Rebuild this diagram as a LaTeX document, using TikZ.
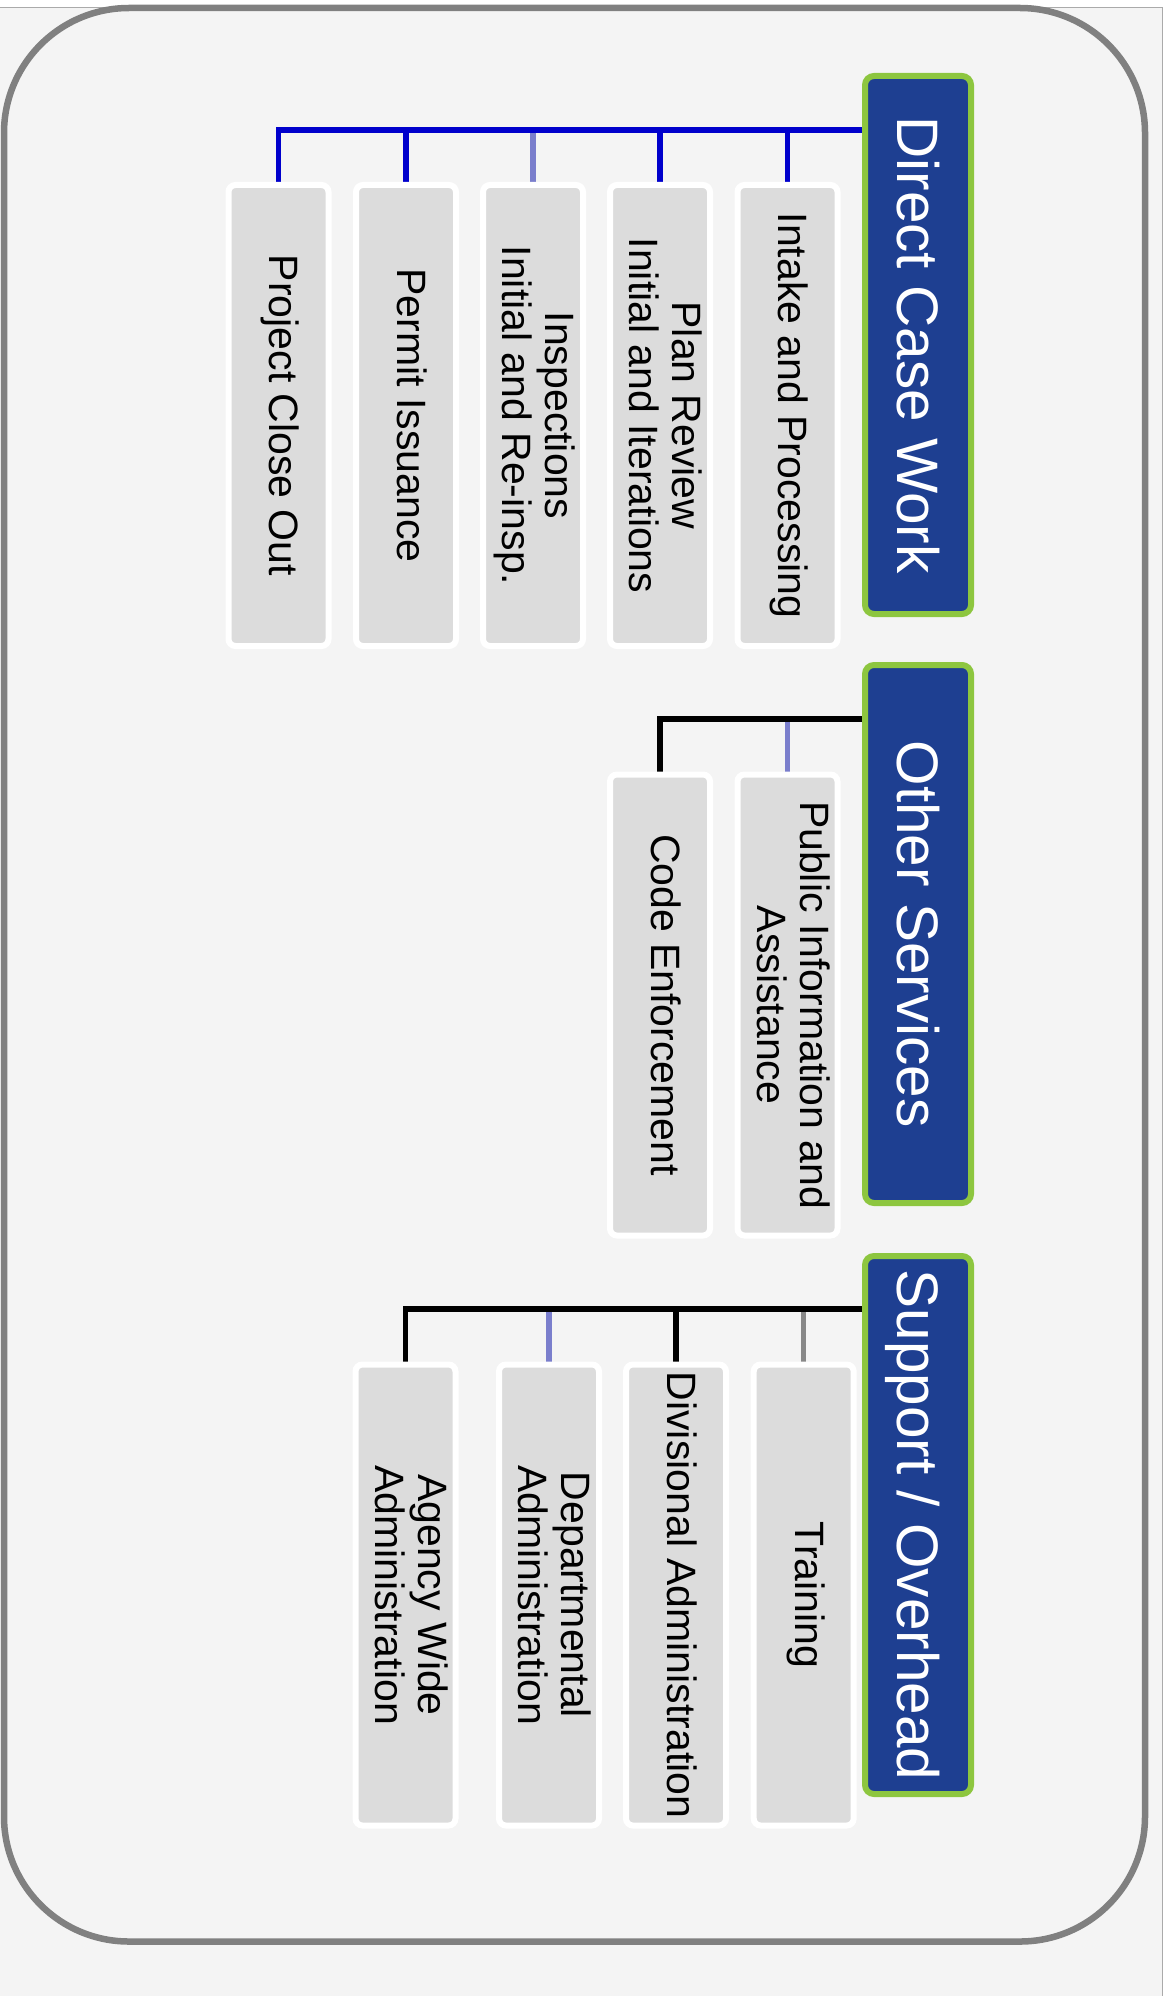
\documentclass[tikz,border=0pt]{standalone}
\usepackage{fontspec}
\setmainfont{Liberation Sans}
\usepackage{graphicx}
\definecolor{hdrblue}{RGB}{30,63,145}
\definecolor{hdrgreen}{RGB}{141,198,63}
\definecolor{cblue}{RGB}{0,0,204}
\definecolor{cpurple}{RGB}{122,126,204}
\definecolor{cgray}{RGB}{136,136,136}
\definecolor{boxgray}{RGB}{220,220,220}
\definecolor{bggray}{RGB}{244,244,244}
\definecolor{framegray}{RGB}{128,128,128}
\definecolor{edgegray}{RGB}{170,170,170}
\pgfdeclarelayer{bglayer}
\pgfdeclarelayer{connlayer}
\pgfsetlayers{bglayer,connlayer,main}
\newcommand{\vtext}[1]{\rotatebox{-90}{\begin{tabular}{@{}c@{}}#1\end{tabular}}}
\newcommand{\htext}[1]{\rotatebox{-90}{\rule{0pt}{0.716em}\smash{#1}}}
\begin{document}
\begin{tikzpicture}[x=1pt,y=-1pt,
  hdr/.style={draw=hdrgreen, line width=6pt, fill=hdrblue, rounded corners=9pt,
    minimum width=106pt, minimum height=538pt, inner sep=0pt, text=white,
    font=\fontsize{58.5}{62}\selectfont},
  sub/.style={draw=white, line width=6pt, fill=boxgray, rounded corners=7pt,
    minimum width=100pt, minimum height=461pt, inner sep=0pt, text=black,
    font=\fontsize{41}{43}\selectfont},
  conn/.style={line width=5.5pt}]
\useasboundingbox (0,0) rectangle (1165,1996);

% headers
\node[hdr] (h1) at (918,345) {\htext{Direct Case Work}};
\node[hdr] (h2) at (918,934) {\htext{Other Services}};
\node[hdr] (h3) at (918,1525) {\htext{Support / Overhead}};

% Direct Case Work children
\node[sub] (a1) at (278.5,415.5) {\vtext{Project Close Out}};
\node[sub] (a2) at (406,415.5) {\vtext{Permit Issuance}};
\node[sub] (a3) at (533,415.5) {\vtext{Inspections\\Initial and Re-insp.}};
\node[sub] (a4) at (660,415.5) {\vtext{Plan Review\\Initial and Iterations}};
\node[sub] (a5) at (787.5,415.5) {\vtext{Intake and Processing}};

% Other Services children
\node[sub] (b1) at (787.5,1005) {\vtext{Public Information and\\Assistance}};
\node[sub] (b2) at (660,1005) {\vtext{Code Enforcement}};

% Support / Overhead children
\node[sub] (d1) at (803.7,1595) {\vtext{Training}};
\node[sub] (d2) at (676,1595) {\vtext{Divisional Administration}};
\node[sub] (d3) at (549,1595) {\vtext{Departmental\\Administration}};
\node[sub] (d4) at (405.5,1595) {\vtext{Agency Wide\\Administration}};

\coordinate (j1) at (0,130);
\coordinate (j2) at (0,719);
\coordinate (j3) at (0,1309);

\begin{pgfonlayer}{bglayer}
  \fill[white] (0,0) rectangle (1165,1996);
  \fill[bggray] (0,8) rectangle (1162,1996);
  \draw[edgegray,line width=1pt] (0,8) -- (1162,8) -- (1162,1996);
  \draw[framegray,line width=6.5pt,rounded corners=125pt] (4,8) rectangle (1145,1941.5);
\end{pgfonlayer}

\begin{pgfonlayer}{connlayer}
  \draw[conn,cpurple] (h1.west |- j1) -| (a3.north);
  \draw[conn,cblue] (h1.west |- j1) -| (a5.north);
  \draw[conn,cblue] (h1.west |- j1) -| (a4.north);
  \draw[conn,cblue] (h1.west |- j1) -| (a2.north);
  \draw[conn,cblue] (h1.west |- j1) -| (a1.north);

  \draw[conn,cpurple] (h2.west |- j2) -| (b1.north);
  \draw[conn,black] (h2.west |- j2) -| (b2.north);

  \draw[conn,cgray] (h3.west |- j3) -| (d1.north);
  \draw[conn,cpurple] (h3.west |- j3) -| (d3.north);
  \draw[conn,black] (h3.west |- j3) -| (d2.north);
  \draw[conn,black] (h3.west |- j3) -| (d4.north);
\end{pgfonlayer}
\end{tikzpicture}
\end{document}
